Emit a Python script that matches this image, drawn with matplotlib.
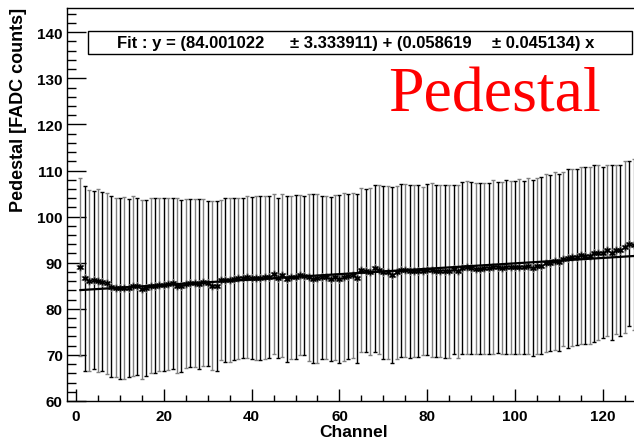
import numpy as np
import matplotlib
matplotlib.use("Agg")
import matplotlib.pyplot as plt
from matplotlib.patches import Rectangle
from matplotlib.ticker import MultipleLocator

# ---- data ----
channels = list(range(1, 128))
upper = [108.4, 106.6, 105.7, 105.5, 105.9, 105.3, 105.2, 104.5, 104.1, 104.1,
         104.3, 103.9, 104.5, 104.0, 103.7, 103.7, 104.0, 104.1, 104.1, 104.1,
         104.1, 104.1, 104.1, 103.6, 103.8, 103.8, 103.9, 103.9, 103.9, 103.4,
         103.4, 103.4, 103.6, 104.0, 104.1, 104.1, 104.1, 104.1, 104.5, 104.3,
         104.5, 104.5, 104.5, 104.5, 105.0, 104.1, 105.0, 104.5, 104.5, 104.7,
         104.7, 104.5, 105.0, 104.8, 105.0, 104.5, 104.5, 104.2, 104.7, 104.7,
         105.2, 105.0, 105.2, 105.0, 106.1, 105.9, 106.1, 106.9, 106.9, 106.6,
         106.6, 106.4, 106.6, 107.1, 107.1, 106.9, 106.9, 106.9, 106.5, 107.1,
         107.3, 106.9, 106.9, 106.9, 106.9, 106.9, 106.9, 107.4, 107.7, 107.4,
         107.3, 107.3, 107.3, 107.3, 107.9, 107.6, 107.4, 107.9, 107.7, 107.7,
         108.2, 107.7, 108.3, 107.9, 108.3, 108.6, 109.2, 109.0, 109.7, 109.2,
         109.7, 110.4, 110.4, 110.4, 110.8, 110.7, 110.7, 111.1, 111.2, 110.7,
         111.2, 111.1, 111.2, 111.2, 112.0, 112.1, 112.4]
lower = [69.7, 66.6, 66.4, 66.9, 66.3, 66.4, 65.8, 65.1, 65.1, 64.8,
         64.8, 65.1, 65.4, 65.7, 64.8, 65.4, 66.1, 66.0, 66.4, 66.4,
         66.7, 66.9, 66.0, 66.3, 67.1, 67.3, 67.3, 67.0, 67.7, 67.6,
         66.7, 66.4, 68.8, 68.5, 68.5, 68.8, 69.1, 69.3, 69.3, 69.2,
         68.9, 68.9, 69.2, 69.4, 70.1, 69.4, 69.6, 68.5, 69.1, 69.1,
         69.9, 69.9, 68.7, 68.3, 68.3, 69.2, 69.1, 68.7, 69.0, 68.3,
         68.7, 69.1, 69.4, 68.3, 70.7, 70.6, 69.9, 70.7, 70.1, 69.2,
         69.2, 68.3, 69.2, 69.6, 69.6, 69.4, 69.6, 69.6, 70.0, 69.9,
         69.6, 69.6, 69.5, 69.4, 69.4, 70.3, 69.4, 70.1, 70.3, 70.1,
         70.1, 70.1, 70.3, 70.3, 70.3, 70.5, 70.3, 70.1, 70.3, 70.3,
         70.1, 70.3, 70.1, 69.8, 70.3, 70.1, 70.7, 70.9, 71.1, 70.9,
         71.9, 71.5, 71.9, 72.1, 72.4, 72.4, 72.3, 72.9, 73.2, 73.6,
         74.1, 73.2, 74.5, 74.1, 74.8, 76.2, 75.3]
fit_p0 = 84.001022
fit_p0_err = 3.333911
fit_p1 = 0.058619
fit_p1_err = 0.045134
fit_range = [1, 127]

x = np.array(channels, dtype=float)
up = np.array(upper)
lo = np.array(lower)
mean = (up + lo) / 2.0
err = (up - lo) / 2.0

W, H = 634, 439
fig = plt.figure(figsize=(W / 100, H / 100), dpi=100)
ax_l, ax_r, ax_t, ax_b = 67, 638, 9, 402
ax = fig.add_axes([ax_l / W, (H - ax_b) / H, (ax_r - ax_l) / W, (ax_b - ax_t) / H])

for parity, col in ((0, "black"), (1, "#808080")):
    sel = (x.astype(int) % 2) == parity
    ax.errorbar(x[sel], mean[sel], yerr=err[sel], fmt="none", ecolor=col,
                elinewidth=1.0, capsize=1.6, capthick=1.0)

ax.plot(x, mean, linestyle="none", marker=(6, 2, 0), markersize=6,
        markeredgewidth=1.0, color="#707070", zorder=3)
ax.plot(x, mean, linestyle="none", marker=(6, 2, 0), markersize=4,
        markeredgewidth=1.0, color="black", zorder=4)

xf = np.array(fit_range, dtype=float)
ax.plot(xf, fit_p0 + fit_p1 * xf, color="black", lw=1.6, zorder=5)

ax.set_xlim(-2.05, 128.0)
ax.set_ylim(60, 145.25)
ax.xaxis.set_major_locator(MultipleLocator(20))
ax.xaxis.set_minor_locator(MultipleLocator(5))
ax.yaxis.set_major_locator(MultipleLocator(10))
ax.yaxis.set_minor_locator(MultipleLocator(2))
ax.tick_params(axis="x", which="major", direction="in", length=9, width=1, pad=6,
               top=False, labelsize=11)
ax.tick_params(axis="x", which="minor", direction="in", length=4.5, width=1, top=False)
ax.tick_params(axis="y", which="major", direction="in", length=13.5, width=1, pad=3,
               right=False, labelsize=11)
ax.tick_params(axis="y", which="minor", direction="in", length=6.5, width=1, right=False)
for lab in ax.get_xticklabels() + ax.get_yticklabels():
    lab.set_fontfamily("Liberation Sans")
    lab.set_fontweight("bold")
for s in ax.spines.values():
    s.set_linewidth(1.0)

# y title
fig.text(19 / W, (H - 8) / H, "Pedestal [FADC counts]", rotation=90, ha="center",
         va="top", fontsize=13, fontweight="bold", family="Liberation Sans")
# x title
fig.text(388 / W, (H - 437) / H, "Channel", ha="right", va="baseline",
         fontsize=12.5, fontweight="bold", family="Liberation Sans")

# fit box
fig.patches.append(Rectangle((88 / W, (H - 55) / H), (632 - 88) / W, 23 / H,
                             transform=fig.transFigure, facecolor="white",
                             edgecolor="black", lw=1.0, zorder=5))
ty = (H - 43.5) / H
fkw = dict(va="center", ha="left", fontsize=12, fontweight="bold",
           family="Liberation Sans", zorder=6)
fig.text(117 / W, ty, "Fit : y = (%.6f" % fit_p0, **fkw)
fig.text(290 / W, ty, "\u00b1 %.6f) + (%.6f" % (fit_p0_err, fit_p1), **fkw)
fig.text(492 / W, ty, "\u00b1 %.6f) x" % fit_p1_err, **fkw)

fig.text(388 / W, (H - 112) / H, "Pedestal", ha="left", va="baseline",
         fontsize=46, color="red", family="Liberation Serif")

fig.savefig("out.png", dpi=100)
